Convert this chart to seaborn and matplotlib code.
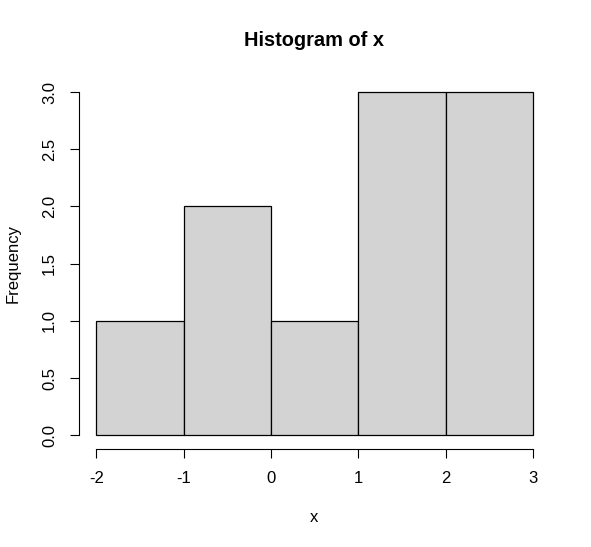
import numpy as np
import matplotlib
matplotlib.use("Agg")
import matplotlib.pyplot as plt
import seaborn as sns

# histogram of x: bin edges and counts
bin_edges = [-2, -1, 0, 1, 2, 3]
counts = [1, 2, 1, 3, 3]
x_ticks = [-2, -1, 0, 1, 2, 3]
y_ticks = [0.0, 0.5, 1.0, 1.5, 2.0, 2.5, 3.0]

sns.set_style("white")
plt.rcParams['font.family'] = ['Liberation Sans', 'DejaVu Sans']
plt.rcParams['text.color'] = 'black'
plt.rcParams['axes.labelcolor'] = 'black'
plt.rcParams['xtick.color'] = 'black'
plt.rcParams['ytick.color'] = 'black'

centers = (np.array(bin_edges[:-1]) + np.array(bin_edges[1:])) / 2

fig = plt.figure(figsize=(5.91, 5.47), dpi=100)
W, H = 591, 547
ax = fig.add_axes([79 / W, (H - 449) / H, (550.5 - 79) / W, (449 - 78.3) / H])

sns.histplot(x=centers, weights=counts, bins=bin_edges, ax=ax,
             color='#D3D3D3', edgecolor='black', linewidth=0.9, alpha=1)

ax.set_xlim(-2.2, 3.2)
ax.set_ylim(-0.12, 3.12)

for side in ['top', 'right']:
    ax.spines[side].set_visible(False)
ax.spines['left'].set_bounds(0, 3)
ax.spines['bottom'].set_bounds(-2, 3)
for side in ['left', 'bottom']:
    ax.spines[side].set_color('black')
    ax.spines[side].set_linewidth(0.8)

ax.set_xticks(x_ticks)
ax.set_xticklabels([str(t) for t in x_ticks])
ax.set_yticks(y_ticks)
ax.set_yticklabels([f"{t:.1f}" for t in y_ticks], rotation=90, va='center')
ax.tick_params(axis='both', length=6.8, width=0.8, colors='black',
               labelsize=12, direction='out', bottom=True, left=True)
ax.tick_params(axis='x', pad=9)
ax.tick_params(axis='y', pad=9)

ax.set_xlabel('x', fontsize=12, va='center', color='black')
ax.xaxis.set_label_coords((314 - 79) / 471.5, -(517 - 449) / 370.7)
ax.set_ylabel('Frequency', fontsize=12, va='center', color='black')
ax.yaxis.set_label_coords(-(79 - 13) / 471.5, 0.5)

fig.text(314 / W, (H - 40) / H, 'Histogram of x', fontsize=14.4,
         fontweight='bold', ha='center', va='center', color='black')

fig.savefig('out.png', dpi=100)
